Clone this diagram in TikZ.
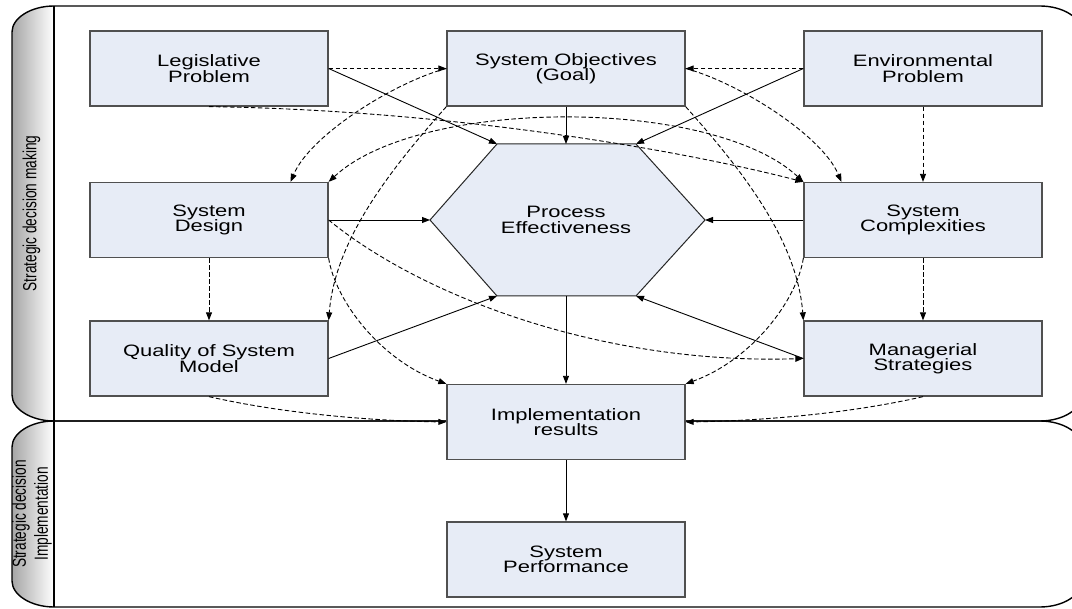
\documentclass[tikz,border=0pt]{standalone}
\usepackage{fontspec}
\usetikzlibrary{arrows.meta,calc}
\newfontfamily\boxfont[FakeStretch=1.33]{Liberation Sans}
\newfontfamily\lanefont[FakeStretch=0.72]{Liberation Sans}
\definecolor{boxfill}{RGB}{231,236,246}
\definecolor{boxline}{RGB}{80,80,80}
\begin{document}
\begin{tikzpicture}[x=1pt,y=-1pt,
  box/.style={draw=boxline, line width=1.3pt, fill=boxfill, minimum width=238pt, minimum height=75pt, inner sep=0pt, align=center, font={\boxfont\fontsize{16.5}{15.5}\selectfont}},
  boxtext/.style={inner sep=0pt, align=center, font={\boxfont\fontsize{16.5}{15.5}\selectfont}},
  lanetext/.style={inner sep=0pt, align=center, rotate=90, font={\lanefont\fontsize{19}{22}\selectfont}},
  lane/.style={draw=black, line width=1.4pt},
  conn/.style={line width=0.9pt, -{Triangle[length=8pt,width=6pt]}},
  dconn/.style={conn, dash pattern=on 4.5pt off 2.5pt},
  dconnboth/.style={dconn, {Triangle[length=8pt,width=6pt]}-{Triangle[length=8pt,width=6pt]}}
]
\useasboundingbox (0,0) rectangle (1072,609);
\clip (0,0) rectangle (1072,609);

% lane headers (shaded)
\path[left color=black!35, right color=white] (54,6) -- (54,421) .. controls (31,421) and (12,409) .. (12,395) -- (12,32) .. controls (12,18) and (31,6) .. (54,6) -- cycle;
\path[left color=black!35, right color=white] (54,421) -- (54,607) .. controls (31,607) and (12,595) .. (12,581) -- (12,447) .. controls (12,433) and (31,421) .. (54,421) -- cycle;

% lane outlines
\draw[lane] (54,6) -- (1040,6) .. controls (1063,6) and (1082,18) .. (1082,32) -- (1082,395) .. controls (1082,409) and (1063,421) .. (1040,421) -- (54,421) .. controls (31,421) and (12,409) .. (12,395) -- (12,32) .. controls (12,18) and (31,6) .. (54,6);
\draw[lane] (54,421) -- (1040,421) .. controls (1063,421) and (1082,433) .. (1082,447) -- (1082,581) .. controls (1082,595) and (1063,607) .. (1040,607) -- (54,607) .. controls (31,607) and (12,595) .. (12,581) -- (12,447) .. controls (12,433) and (31,421) .. (54,421);
\draw[lane] (54,6) -- (54,607);

\node[lanetext] (l1) at (31.5,213.5) {Strategic decision making};
\node[lanetext] (l2) at (32,514) {Strategic decision\\Implementation};

% boxes
\node[box] (leg) at (209,68.5) {Legislative\\Problem};
\node[box] (obj) at (566,68.5) {System Objectives\\(Goal)};
\node[box] (env) at (923,68.5) {Environmental\\Problem};
\node[box] (sd) at (209,220) {System\\Design};
\node[box] (sc) at (923,220) {System\\Complexities};
\node[box] (qsm) at (209,358.5) {Quality of System\\Model};
\node[box] (ms) at (923,358.5) {Managerial\\Strategies};
\node[box] (impl) at (566,422) {Implementation\\results};
\node[box] (perf) at (566,559.5) {System\\Performance};

% hexagon
\coordinate (hl) at (430,220);
\coordinate (htl) at (497,144);
\coordinate (ht) at (566,144);
\coordinate (htr) at (636,144);
\coordinate (hr) at (705,220);
\coordinate (hbr) at (636,296);
\coordinate (hb) at (566,296);
\coordinate (hbl) at (497,296);
\filldraw[fill=boxfill, draw=black!85, line width=1pt] (hl) -- (htl) -- (htr) -- (hr) -- (hbr) -- (hbl) -- cycle;
\node[boxtext] (pe) at (566,220) {Process\\Effectiveness};

% solid connectors
\draw[conn] (leg.east) -- (htl);
\draw[conn] (obj.south) -- (ht);
\draw[conn] (env.west) -- (htr);
\draw[conn] (sd.east) -- (hl);
\draw[conn] (sc.west) -- (hr);
\draw[conn] (qsm.east) -- (hbl);
\draw[conn] (ms.west) -- (hbr);
\draw[conn] (hb) -- (impl.north);
\draw[conn] (impl.south) -- (perf.north);

% dashed straight connectors
\draw[dconn] (leg.east) -- (obj.west);
\draw[dconn] (env.west) -- (obj.east);
\draw[dconn] (env.south) -- (sc.north);
\draw[dconn] (sd.south) -- (qsm.north);
\draw[dconn] (sc.south) -- (ms.north);

% dashed curved connectors
\draw[dconn] (obj.west) .. controls (395,82) and (310,135) .. ($(sd.north east)+(-38,0)$);
\draw[dconn] (obj.east) .. controls (737,82) and (822,135) .. ($(sc.north west)+(38,0)$);
\draw[dconn] (obj.south west) .. controls (390,170) and (335,240) .. (qsm.north east);
\draw[dconn] (obj.south east) .. controls (742,170) and (797,240) .. (ms.north west);
\draw[dconn] (leg.south) .. controls (450,110) and (680,150) .. (sc.north west);
\draw[dconnboth] (sd.north east) .. controls (420,97) and (712,97) .. (sc.north west);
\draw[dconn] (sd.south east) .. controls (335,300) and (380,360) .. (impl.north west);
\draw[dconn] (sc.south west) .. controls (797,300) and (752,360) .. (impl.north east);
\draw[dconn] (sd.east) .. controls (420,295) and (600,365) .. (ms.west);
\draw[dconn] (qsm.south) .. controls (290,415) and (380,421) .. (impl.west);
\draw[dconn] (ms.south) .. controls (843,415) and (752,421) .. (impl.east);
\end{tikzpicture}
\end{document}
